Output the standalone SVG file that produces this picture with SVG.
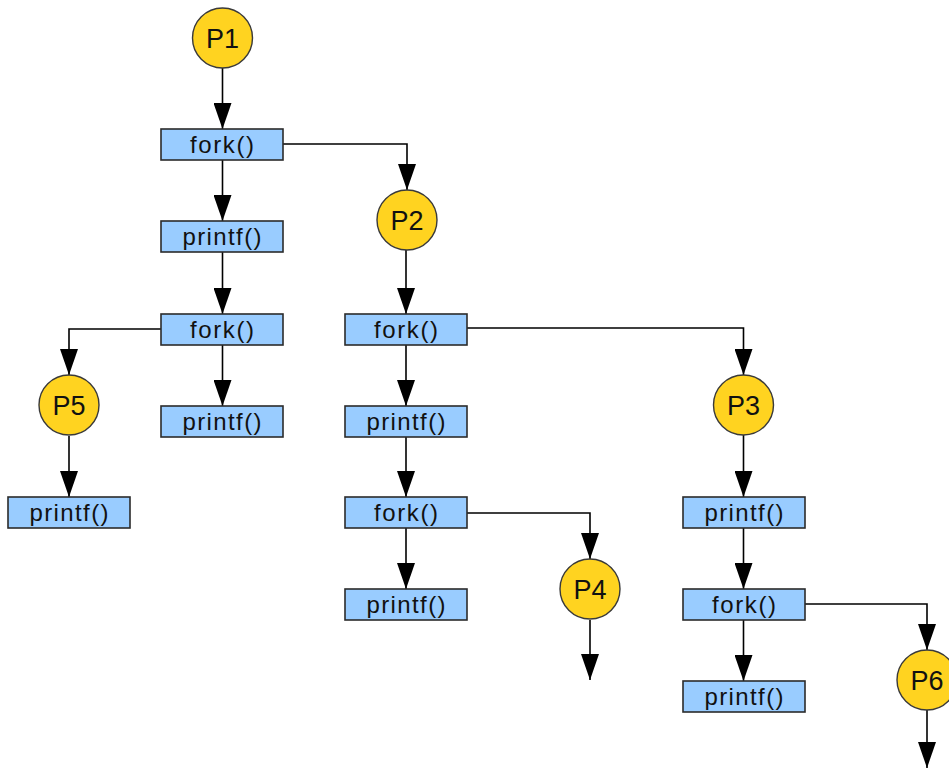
<svg xmlns="http://www.w3.org/2000/svg" width="949" height="769" viewBox="0 0 949 769">
<style>
.box{fill:#99CCFF;stroke:#2b2b2b;stroke-width:1.6}
.proc{fill:#FFD320;stroke:#3a3a3a;stroke-width:1.4}
.bt{font-family:"Liberation Sans",Arial,sans-serif;font-size:24px;fill:#111;text-anchor:middle}
.pt{font-family:"Liberation Sans",Arial,sans-serif;font-size:27px;fill:#111;text-anchor:middle}
.edge{fill:none;stroke:#000;stroke-width:1.6;marker-end:url(#arr)}
</style>
<defs>
<marker id="arr" markerUnits="userSpaceOnUse" viewBox="0 0 26 18" refX="26" refY="9" markerWidth="26" markerHeight="18" orient="auto">
<path d="M0,0 L26,9 L0,18 z" fill="#000"/>
</marker>
</defs>
<g id="connectors">
<path class="edge" d="M222.5,68 V129"/>
<path class="edge" d="M283,144 H407 V190"/>
<path class="edge" d="M222.5,160 V221"/>
<path class="edge" d="M222.5,252 V314"/>
<path class="edge" d="M161,329 H69 V375"/>
<path class="edge" d="M222.5,345 V406"/>
<path class="edge" d="M69,436 V497"/>
<path class="edge" d="M406,250 V314"/>
<path class="edge" d="M467,328 H743.5 V375"/>
<path class="edge" d="M406,345 V406"/>
<path class="edge" d="M406,437 V497"/>
<path class="edge" d="M467,513 H590 V559"/>
<path class="edge" d="M406,528 V589"/>
<path class="edge" d="M590,620 V680"/>
<path class="edge" d="M743.5,435 V497"/>
<path class="edge" d="M743.5,528 V589"/>
<path class="edge" d="M805,604 H927 V650"/>
<path class="edge" d="M743.5,620 V681"/>
<path class="edge" d="M927,710 V768"/>
</g>
<g id="P1"><circle class="proc" cx="222.5" cy="38" r="30"/><text class="pt" x="222.5" y="48">P1</text></g>
<g id="fork1"><rect class="box" x="161" y="129" width="122" height="31"/><text class="bt" x="222" y="153" textLength="64" lengthAdjust="spacing">fork()</text></g>
<g id="P2"><circle class="proc" cx="407" cy="220" r="30"/><text class="pt" x="407" y="230">P2</text></g>
<g id="printf1"><rect class="box" x="161" y="221" width="122" height="31"/><text class="bt" x="222" y="245" textLength="79" lengthAdjust="spacing">printf()</text></g>
<g id="fork2"><rect class="box" x="161" y="314" width="122" height="31"/><text class="bt" x="222" y="338" textLength="64" lengthAdjust="spacing">fork()</text></g>
<g id="P5"><circle class="proc" cx="69" cy="405" r="30"/><text class="pt" x="69" y="415">P5</text></g>
<g id="printf2"><rect class="box" x="161" y="406" width="122" height="31"/><text class="bt" x="222" y="430" textLength="79" lengthAdjust="spacing">printf()</text></g>
<g id="printf3"><rect class="box" x="8" y="497" width="122" height="31"/><text class="bt" x="69" y="521" textLength="79" lengthAdjust="spacing">printf()</text></g>
<g id="fork3"><rect class="box" x="345" y="314" width="122" height="31"/><text class="bt" x="406" y="338" textLength="64" lengthAdjust="spacing">fork()</text></g>
<g id="printf4"><rect class="box" x="345" y="406" width="122" height="31"/><text class="bt" x="406" y="430" textLength="79" lengthAdjust="spacing">printf()</text></g>
<g id="fork4"><rect class="box" x="345" y="497" width="122" height="31"/><text class="bt" x="406" y="521" textLength="64" lengthAdjust="spacing">fork()</text></g>
<g id="printf5"><rect class="box" x="345" y="589" width="122" height="31"/><text class="bt" x="406" y="613" textLength="79" lengthAdjust="spacing">printf()</text></g>
<g id="P4"><circle class="proc" cx="590" cy="589" r="30"/><text class="pt" x="590" y="599">P4</text></g>
<g id="P3"><circle class="proc" cx="743.5" cy="405" r="30"/><text class="pt" x="743.5" y="415">P3</text></g>
<g id="printf6"><rect class="box" x="683" y="497" width="122" height="31"/><text class="bt" x="744" y="521" textLength="79" lengthAdjust="spacing">printf()</text></g>
<g id="fork5"><rect class="box" x="683" y="589" width="122" height="31"/><text class="bt" x="744" y="613" textLength="64" lengthAdjust="spacing">fork()</text></g>
<g id="printf7"><rect class="box" x="683" y="681" width="122" height="31"/><text class="bt" x="744" y="705" textLength="79" lengthAdjust="spacing">printf()</text></g>
<g id="P6"><circle class="proc" cx="927" cy="680" r="30"/><text class="pt" x="927" y="690">P6</text></g>
</svg>
